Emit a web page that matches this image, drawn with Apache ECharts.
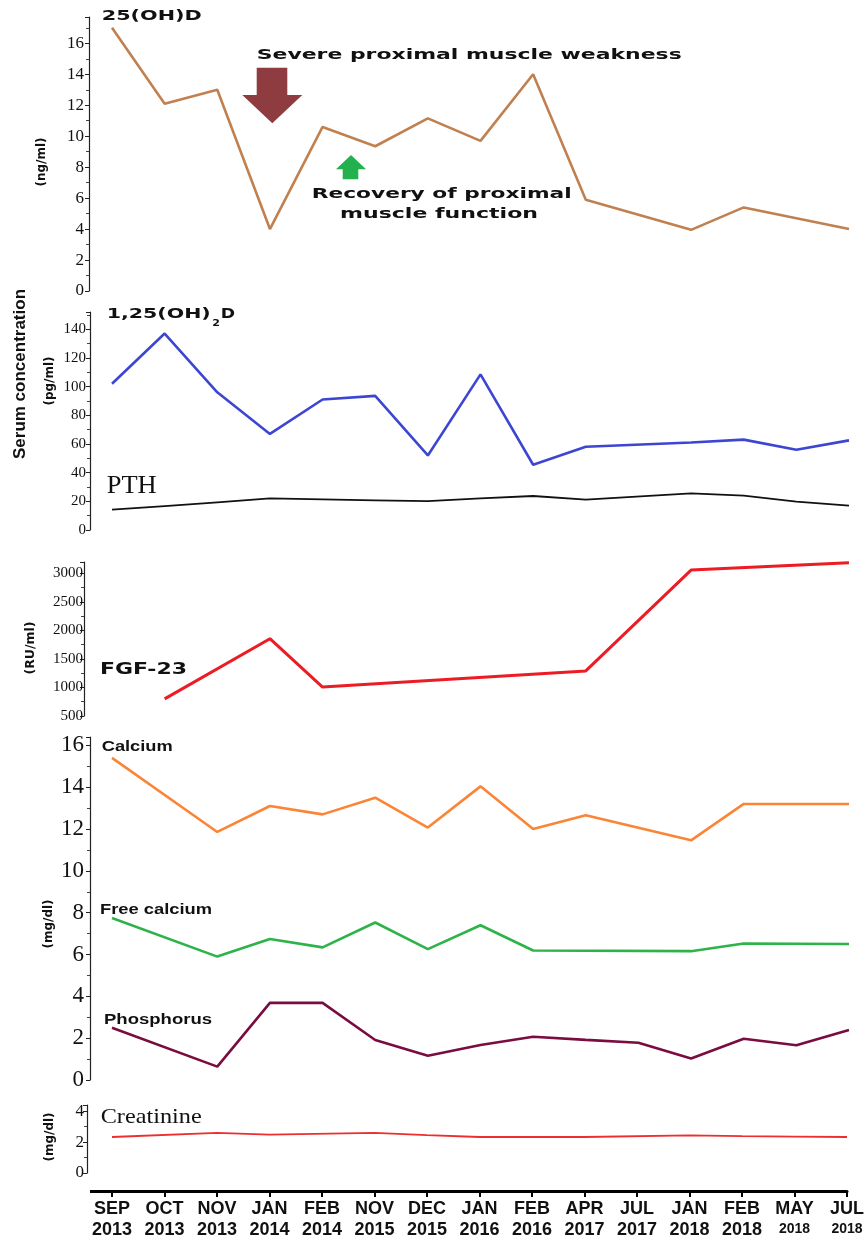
<!DOCTYPE html>
<html>
<head>
<meta charset="utf-8">
<script src="https://cdn.jsdelivr.net/npm/echarts@6/dist/echarts.min.js"></script>
<style>
  html, body { margin: 0; padding: 0; background: #ffffff; }
  #chart { width: 867px; height: 1240px; }
</style>
</head>
<body>
<div id="chart"></div>
<script>
// ---------- data ----------
const categories = ['SEP 2013', 'OCT 2013', 'NOV 2013', 'JAN 2014', 'FEB 2014', 'NOV 2015', 'DEC 2015',
  'JAN 2016', 'FEB 2016', 'APR 2017', 'JUL 2017', 'JAN 2018', 'FEB 2018', 'MAY 2018', 'JUL 2018'];

const vitD25      = [17.0, 12.1, 13.0, 4.0, 10.6, 9.35, 11.15, 9.7, 14.0, 5.9, null, 3.95, 5.4, null, 4.0];
const vitD125     = [102, 137, 96, 67, 91, 93.5, 52, 108.5, 45.5, 58, null, 61, 63, 56, 62.5];
const pth         = [14.2, 16.7, 19.3, 22, 21.3, 20.7, 20.2, 22, 23.7, 21.2, null, 25.6, 24, 19.8, 17];
const fgf23       = [null, 800, null, 1855, 1008, null, null, null, null, 1290, null, 3058, null, null, 3187];
const calcium     = [15.4, null, 11.86, 13.1, 12.7, 13.5, 12.07, 14.04, 12.0, 12.66, null, 11.46, 13.2, null, 13.2];
const freeCalcium = [7.75, null, 5.9, 6.74, 6.34, 7.53, 6.26, 7.4, 6.19, null, null, 6.16, 6.53, null, 6.5];
const phosphorus  = [2.5, null, 0.64, 3.69, 3.69, 1.91, 1.16, 1.67, 2.07, 1.92, 1.78, 1.03, 1.97, 1.66, 2.39];
const creatinine  = [2.33, null, 2.59, 2.48, null, 2.59, 2.45, 2.33, 2.33, 2.33, null, 2.43, 2.39, 2.36, 2.33];

const smallYearLabels = ['MAY 2018', 'JUL 2018'];

// ---------- helpers ----------
const measureCtx = document.createElement('canvas').getContext('2d');
function fit(text, font, width) {
  measureCtx.font = font;
  return width / measureCtx.measureText(text).width;
}
function label(text, font, left, cy, width, fill) {
  return {
    type: 'text', x: left, y: cy, scaleX: fit(text, font, width), silent: true,
    style: { text: text, font: font, fill: fill || '#111', align: 'left', verticalAlign: 'middle' }
  };
}
function vtitle(text, font, cx, cy) {
  return {
    type: 'text', x: cx, y: cy, rotation: Math.PI / 2, silent: true,
    style: { text: text, font: font, fill: '#111', align: 'center', verticalAlign: 'middle' }
  };
}

const LEFT = 112, RIGHT = 18;
const grids = [
  { left: LEFT, right: RIGHT, top: 17, height: 274 },
  { left: LEFT, right: RIGHT, top: 312, height: 218 },
  { left: LEFT, right: RIGHT, top: 562, height: 154 },
  { left: LEFT, right: RIGHT, top: 737, height: 343 },
  { left: LEFT, right: RIGHT, top: 1105, height: 68 }
];

const sansFamily = '"Liberation Sans", Arial, sans-serif';
function makeX(i, visible) {
  return {
    gridIndex: i, type: 'category', data: categories, boundaryGap: false, show: visible,
    position: 'bottom', offset: visible ? 18 : 0,
    axisLine: { show: visible, onZero: false, lineStyle: { color: '#000', width: 3 } },
    axisTick: { show: visible, length: 6, lineStyle: { color: '#000', width: 2 } },
    axisLabel: {
      show: visible, interval: 0, margin: 8, color: '#111',
      formatter: function (v) {
        const parts = v.split(' ');
        const key = smallYearLabels.indexOf(v) >= 0 ? 's' : 'y';
        return '{m|' + parts[0] + '}\n{' + key + '|' + parts[1] + '}';
      },
      rich: {
        m: { fontFamily: sansFamily, fontWeight: 'bold', fontSize: 18, lineHeight: 21, color: '#111' },
        y: { fontFamily: sansFamily, fontWeight: 'bold', fontSize: 18, lineHeight: 21, color: '#111' },
        s: { fontFamily: sansFamily, fontWeight: 'bold', fontSize: 14, lineHeight: 18, color: '#111' }
      }
    },
    splitLine: { show: false }
  };
}
function makeY(i, min, max, interval, offset, fontSize, margin) {
  return {
    gridIndex: i, type: 'value', min: min, max: max, interval: interval, offset: offset,
    axisLine: { show: true, lineStyle: { color: '#222', width: 1.2 } },
    axisTick: { show: true, length: 4, lineStyle: { color: '#222', width: 1 } },
    minorTick: { show: true, splitNumber: 2, length: 3, lineStyle: { color: '#444', width: 1 } },
    splitLine: { show: false },
    axisLabel: {
      showMaxLabel: false, margin: margin, color: '#111',
      fontFamily: '"Liberation Serif", "Times New Roman", serif', fontSize: fontSize,
      formatter: function (v) { return String(v); }
    }
  };
}
function line(name, idx, data, color, width) {
  return {
    name: name, type: 'line', xAxisIndex: idx, yAxisIndex: idx, data: data,
    connectNulls: true, showSymbol: false, symbol: 'none', smooth: false,
    lineStyle: { color: color, width: width }, itemStyle: { color: color }
  };
}

const boldWide = 'bold 14px "DejaVu Sans", sans-serif';
const boldSans = 'bold 14px "Liberation Sans", Arial, sans-serif';
const serifBig = '26px "Liberation Serif", serif';

const option = {
  animation: false,
  backgroundColor: '#ffffff',
  grid: grids,
  xAxis: [makeX(0, false), makeX(1, false), makeX(2, false), makeX(3, false), makeX(4, true)],
  yAxis: [
    makeY(0, 0, 17.7, 2, 23, 17, 5),
    makeY(1, 0, 152, 20, 22, 15, 4),
    makeY(2, 500, 3200, 500, 28, 15, 1),
    makeY(3, 0, 16.4, 2, 22, 23, 6),
    makeY(4, 0, 4.4, 2, 25, 17, 3)
  ],
  series: [
    line('25(OH)D', 0, vitD25, '#c0804f', 2.6),
    line('1,25(OH)2D', 1, vitD125, '#3d46d2', 2.6),
    line('PTH', 1, pth, '#111111', 1.8),
    line('FGF-23', 2, fgf23, '#ec1c24', 3),
    line('Calcium', 3, calcium, '#fb8536', 2.6),
    line('Free calcium', 3, freeCalcium, '#2db34a', 2.6),
    line('Phosphorus', 3, phosphorus, '#7a0c40', 2.6),
    line('Creatinine', 4, creatinine, '#ee2e2e', 1.8)
  ],
  graphic: [
    // series labels
    label('25(OH)D', boldWide, 101.7, 16.7, 100),
    label('1,25(OH)', boldWide, 106.7, 314.7, 104),
    label('2', 'bold 8px "DejaVu Sans", sans-serif', 212.3, 324.2, 7.7),
    label('D', boldWide, 220.7, 314.7, 14.3),
    label('PTH', serifBig, 106.7, 486, 50),
    label('FGF-23', 'bold 15px "DejaVu Sans", sans-serif', 100, 670.5, 87),
    label('Calcium', boldSans, 101.7, 746.7, 71),
    label('Free calcium', boldSans, 100, 909.7, 112),
    label('Phosphorus', boldSans, 104, 1020.5, 108),
    label('Creatinine', '21px "Liberation Serif", serif', 100.7, 1117, 101),
    // annotations
    label('Severe proximal muscle weakness', boldWide, 256.7, 55, 425),
    label('Recovery of proximal', boldWide, 311.7, 194.3, 260),
    label('muscle function', boldWide, 340, 214.5, 198),
    {
      type: 'polygon', silent: true,
      shape: { points: [[256.7, 67.7], [287.3, 67.7], [287.3, 95], [302.3, 95], [272.3, 123.3], [242.3, 95], [256.7, 95]] },
      style: { fill: '#8e3c40' }
    },
    {
      type: 'polygon', silent: true,
      shape: { points: [[351, 155], [366, 169.3], [358.3, 169.3], [358.3, 179.3], [342.7, 179.3], [342.7, 169.3], [336, 169.3]] },
      style: { fill: '#22b14c' }
    },
    // left extension of the bottom axis line
    {
      type: 'line', silent: true,
      shape: { x1: 90, y1: 1191.5, x2: 113, y2: 1191.5 },
      style: { stroke: '#000', lineWidth: 3 }
    },
    // axis titles
    vtitle('(ng/ml)', 'bold 12px "DejaVu Sans", sans-serif', 42, 162),
    vtitle('Serum concentration', 'bold 17px "Liberation Sans", Arial, sans-serif', 20, 374),
    vtitle('(pg/ml)', 'bold 12px "DejaVu Sans", sans-serif', 50, 381),
    vtitle('(RU/ml)', 'bold 12.5px "DejaVu Sans", sans-serif', 31, 648),
    vtitle('(mg/dl)', 'bold 12px "DejaVu Sans", sans-serif', 49, 924),
    vtitle('(mg/dl)', 'bold 12px "DejaVu Sans", sans-serif', 50, 1137)
  ]
};

const chart = echarts.init(document.getElementById('chart'), null, { renderer: 'canvas' });
chart.setOption(option);
</script>
</body>
</html>
